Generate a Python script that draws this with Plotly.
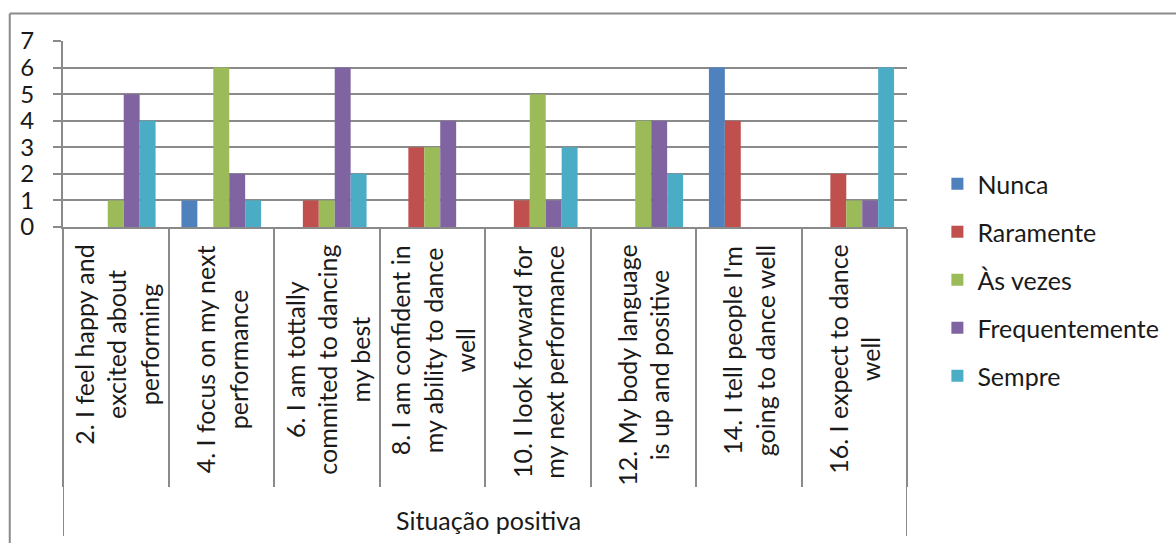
import plotly.graph_objects as go

# Survey responses for the positive-situation items
categories = [
    "2. I feel happy and excited about performing",
    "4. I focus on my next performance",
    "6. I am tottally commited to dancing my best",
    "8. I am confident in my ability to dance well",
    "10. I look forward for my next performance",
    "12. My body language is up and positive",
    "14. I tell people I'm going to dance well",
    "16. I expect to dance well",
]
category_labels = [
    "2. I feel happy and<br>excited about<br>performing",
    "4. I focus on my next<br>performance",
    "6. I am tottally<br>commited to dancing<br>my best",
    "8. I am confident in<br>my ability to dance<br>well",
    "10. I look forward for<br>my next performance",
    "12. My body language<br>is up and positive",
    "14. I tell people I'm<br>going to dance well",
    "16. I expect to dance<br>well",
]
group_label = "Situação positiva"

series_names = ["Nunca", "Raramente", "Às vezes", "Frequentemente", "Sempre"]
nunca = [0, 1, 0, 0, 0, 0, 6, 0]
raramente = [0, 0, 1, 3, 1, 0, 4, 2]
as_vezes = [1, 6, 1, 3, 5, 4, 0, 1]
frequentemente = [5, 2, 6, 4, 1, 4, 0, 1]
sempre = [4, 1, 2, 0, 3, 2, 0, 6]
series_values = [nunca, raramente, as_vezes, frequentemente, sempre]
series_colors = ["#4F81BD", "#C0504D", "#9BBB59", "#8064A2", "#4BACC6"]

FONT = "Lato"
GRID = "#8a8a8a"
TXT = "#1a1a1a"

fig = go.Figure()
for i, (name, vals, col) in enumerate(zip(series_names, series_values, series_colors)):
    fig.add_trace(go.Bar(
        x=categories, y=vals, name=name,
        marker=dict(color=col, line=dict(width=0)),
        legendgroup=f"g{i}",
    ))

# Rotated category labels, lines centred on each other
for cat, lab in zip(categories, category_labels):
    fig.add_annotation(
        x=cat, xref="x", y=0, yref="y", yanchor="top", xanchor="center",
        yshift=-16, text=lab, textangle=-90, align="center", showarrow=False,
        font=dict(family=FONT, size=25, color=TXT),
    )

# Group label below the category block
fig.add_annotation(
    x=0.504, xref="paper", y=-1.575, yref="paper", text=group_label,
    showarrow=False, yanchor="middle", xanchor="center",
    font=dict(family=FONT, size=25, color=TXT),
)

# Outer dividers of the category group
for xv in (-0.5, len(categories) - 0.5):
    fig.add_shape(type="line", xref="x", yref="paper", x0=xv, x1=xv,
                  y0=0, y1=-1.661, line=dict(color=GRID, width=2))

# Chart area frame (left and top edges)
fig.add_shape(type="line", xref="paper", yref="paper", x0=-0.0631, x1=-0.0631,
              y0=1.148, y1=-1.75, line=dict(color=GRID, width=2))
fig.add_shape(type="line", xref="paper", yref="paper", x0=-0.0631, x1=1.33,
              y0=1.148, y1=1.148, line=dict(color=GRID, width=2))

fig.update_layout(
    width=1176, height=543,
    margin=dict(l=63, r=265, t=41, b=316),
    paper_bgcolor="white", plot_bgcolor="white",
    barmode="group", bargap=0.245, bargroupgap=0,
    font=dict(family=FONT, size=25, color=TXT),
    showlegend=True,
    legend=dict(
        x=1.036, xanchor="left", y=-0.285, yanchor="middle",
        traceorder="grouped", tracegroupgap=12.5, maxheight=1,
        font=dict(family=FONT, size=25, color=TXT),
        bgcolor="rgba(0,0,0,0)",
    ),
    xaxis=dict(
        type="category", showticklabels=False, showgrid=False,
        showline=True, linecolor=GRID, linewidth=2,
        ticks="outside", tickson="boundaries", ticklen=258,
        tickcolor=GRID, tickwidth=2, range=[-0.5, 7.5],
    ),
    yaxis=dict(
        range=[0, 7], dtick=1, tick0=0, showgrid=True, gridcolor=GRID,
        gridwidth=2, showline=True, linecolor=GRID, linewidth=2,
        ticks="outside", ticklen=8, tickcolor=GRID, tickwidth=2,
        ticklabelstandoff=14, zeroline=False,
        tickfont=dict(family=FONT, size=24, color=TXT),
    ),
)

fig.write_html("out.html")
